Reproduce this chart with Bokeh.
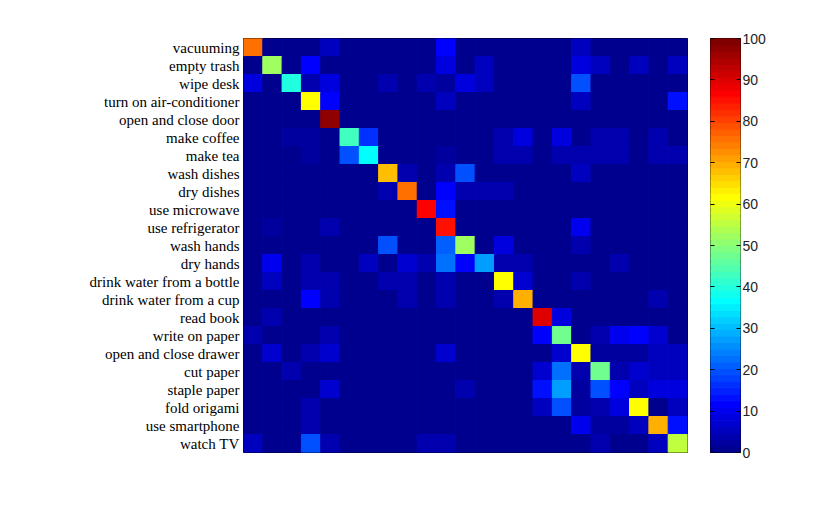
import numpy as np
from bokeh.plotting import figure
from bokeh.layouts import row
from bokeh.models import ColumnDataSource, LinearColorMapper, FixedTicker, Range1d, FactorRange, LinearAxis
from bokeh.embed import file_html
from bokeh.resources import INLINE

labels = ["vacuuming", "empty trash", "wipe desk", "turn on air-conditioner", "open and close door",
          "make coffee", "make tea", "wash dishes", "dry dishes", "use microwave", "use refrigerator",
          "wash hands", "dry hands", "drink water from a bottle", "drink water from a cup", "read book",
          "write on paper", "open and close drawer", "cut paper", "staple paper", "fold origami",
          "use smartphone", "watch TV"]

matrix = [
    [76,0,0,0,5,0,0,0,0,0,12,0,0,0,0,0,0,5,0,0,0,0,0],
    [0,52,0,12,0,0,0,0,0,0,9,0,5,0,0,0,0,9,5,0,5,0,5],
    [9,0,40,4,8,0,0,4,0,4,3,9,5,0,0,0,0,20,0,0,0,0,0],
    [0,0,0,62,12,0,0,0,0,0,5,0,0,0,0,0,0,5,0,0,0,0,14],
    [0,0,0,0,98,0,0,0,0,0,0,0,0,0,0,0,0,0,0,0,0,0,0],
    [0,0,3,3,0,43,17,0,0,0,0,0,0,4,9,0,9,0,4,4,0,4,0],
    [0,0,0,3,0,20,37,0,0,0,3,0,0,4,4,0,4,4,4,4,0,4,4],
    [0,0,0,0,0,0,0,68,4,0,4,19,0,0,0,0,0,5,0,0,0,0,0],
    [0,0,0,0,0,0,0,4,75,0,12,4,4,4,0,0,0,0,0,0,0,0,0],
    [0,0,0,0,0,0,0,0,0,86,14,0,0,0,0,0,0,0,0,0,0,0,0],
    [0,2,0,0,4,0,0,0,0,0,85,0,0,0,0,0,0,10,0,0,0,0,0],
    [0,0,0,0,0,0,0,20,0,0,21,53,0,9,0,0,0,4,0,0,0,0,0],
    [0,10,0,4,0,0,6,1,7,4,22,12,27,4,4,0,0,0,0,4,0,0,0],
    [0,6,0,4,4,0,0,4,4,0,4,0,0,62,7,0,0,4,0,0,0,0,0],
    [0,0,0,12,4,0,0,0,4,0,4,0,0,4,70,0,0,0,0,0,0,4,0],
    [0,4,0,0,0,0,0,0,0,0,0,0,0,0,0,90,8,0,0,0,0,0,0],
    [4,0,0,0,4,0,0,0,0,0,0,0,0,0,0,12,47,0,4,10,11,7,0],
    [0,7,0,4,7,0,0,0,0,0,7,0,0,0,0,0,7,62,3,3,3,5,5],
    [0,0,4,0,0,0,0,0,0,0,0,0,0,0,0,7,22,4,48,4,7,5,5],
    [0,0,0,0,7,0,0,0,0,0,0,4,0,0,0,14,28,2,19,12,5,8,8],
    [0,0,0,4,0,0,0,0,0,0,0,0,0,0,0,5,19,2,4,8,62,1,5],
    [0,0,0,4,0,0,0,0,0,0,0,0,0,0,0,0,0,10,2,2,5,70,14],
    [5,0,0,20,4,0,0,0,0,4,4,0,0,0,0,0,0,0,4,0,0,5,55],
]
cbar_ticks = [0, 10, 20, 30, 40, 50, 60, 70, 80, 90, 100]
vmin, vmax = 0, 100


def jet(n):
    cols = []
    for i in range(n):
        x = (i + 1) / n
        r = np.clip(1.5 - abs(4 * x - 3), 0, 1)
        g = np.clip(1.5 - abs(4 * x - 2), 0, 1)
        b = np.clip(1.5 - abs(4 * x - 1), 0, 1)
        cols.append("#%02x%02x%02x" % (int(round(r * 255)), int(round(g * 255)), int(round(b * 255))))
    return cols


palette = jet(64)
mapper = LinearColorMapper(palette=palette, low=vmin, high=vmax)

xs, ys, vs = [], [], []
for i, lab in enumerate(labels):
    for j in range(len(labels)):
        xs.append(j)
        ys.append(lab)
        vs.append(matrix[i][j])
src = ColumnDataSource(dict(x=xs, y=ys, v=vs))

H = 490
p = figure(width=692, height=H, output_backend="svg", toolbar_location=None,
           x_range=Range1d(-0.5, len(labels) - 0.5),
           y_range=FactorRange(factors=list(reversed(labels))),
           min_border_left=243, min_border_top=38, min_border_bottom=38, min_border_right=5)
p.rect(x="x", y="y", width=1, height=1, source=src,
       fill_color={"field": "v", "transform": mapper},
       line_color={"field": "v", "transform": mapper}, line_width=1)
p.xaxis.visible = False
p.grid.visible = False
p.yaxis.axis_line_color = None
p.yaxis.major_tick_line_color = None
p.yaxis.minor_tick_line_color = None
p.yaxis.major_tick_out = 0
p.yaxis.major_tick_in = 0
p.yaxis.major_label_text_font = "Liberation Serif"
p.yaxis.major_label_text_font_size = "15px"
p.yaxis.major_label_text_color = "black"
p.yaxis.major_label_standoff = 4
p.outline_line_color = "black"
p.outline_line_width = 1
p.background_fill_color = "white"
p.border_fill_color = "white"

# colour bar as its own small figure
n = len(palette)
cb_src = ColumnDataSource(dict(
    bottom=[vmin + (vmax - vmin) * k / n for k in range(n)],
    top=[vmin + (vmax - vmin) * (k + 1) / n for k in range(n)],
    color=palette))
p2 = figure(width=100, height=H, output_backend="svg", toolbar_location=None,
            x_range=Range1d(0, 1), y_range=Range1d(vmin, vmax),
            min_border_left=18, min_border_right=52, min_border_top=38, min_border_bottom=38,
            y_axis_location="right")
p2.quad(left=0, right=1, bottom="bottom", top="top", fill_color="color", line_color="color",
        source=cb_src)
p2.xaxis.visible = False
p2.grid.visible = False
p2.outline_line_color = "black"
p2.border_fill_color = "white"
ax = p2.yaxis[0]
ax.ticker = FixedTicker(ticks=cbar_ticks)
ax.axis_line_color = None
ax.major_tick_in = 4
ax.major_tick_out = 0
ax.minor_tick_line_color = None
ax.major_tick_line_color = "black"
ax.major_label_text_font = "Liberation Sans"
ax.major_label_text_font_size = "14px"
ax.major_label_text_color = "#222222"
ax.major_label_standoff = 2
lax = LinearAxis(ticker=FixedTicker(ticks=cbar_ticks), axis_line_color=None,
                 major_tick_in=4, major_tick_out=0, minor_tick_line_color=None,
                 major_label_overrides={t: "" for t in cbar_ticks}, major_label_standoff=0)
p2.add_layout(lax, "left")

layout = row(p, p2)
open("out.html", "w").write(file_html(layout, INLINE))
